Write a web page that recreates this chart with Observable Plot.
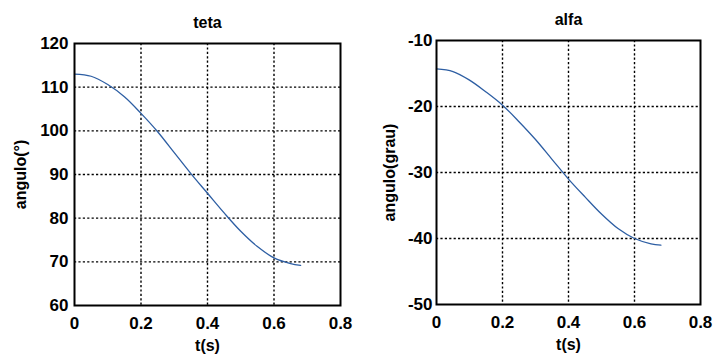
<!DOCTYPE html>
<html>
<head>
<meta charset="utf-8">
<script src="https://cdn.jsdelivr.net/npm/d3@7"></script>
<script src="https://cdn.jsdelivr.net/npm/@observablehq/plot@0.6"></script>
<style>
  html, body { margin: 0; padding: 0; background: #fff; }
  #wrap { position: relative; width: 715px; height: 356px; overflow: hidden; background: #fff; }
  #wrap > .panel { position: absolute; top: 0; }
</style>
</head>
<body>
<div id="wrap"></div>
<script>
// time samples (s)
const tVals = [0, 0.05, 0.10, 0.15, 0.20, 0.25, 0.30, 0.35, 0.40, 0.45, 0.50, 0.55, 0.60, 0.65, 0.68];
// teta angle (degrees)
const tetaVals = [113.0, 112.5, 110.6, 107.8, 104.0, 99.8, 95.0, 90.2, 85.7, 81.2, 77.0, 73.5, 70.9, 69.6, 69.2];
// alfa angle (degrees)
const alfaVals = [-14.3, -14.7, -16.0, -17.8, -19.8, -22.3, -25.0, -28.0, -31.0, -33.7, -36.3, -38.5, -40.0, -40.8, -41.0];

const xTicks = [0, 0.2, 0.4, 0.6, 0.8];
const tetaTicks = [60, 70, 80, 90, 100, 110, 120];
const alfaTicks = [-50, -40, -30, -20, -10];

const FONT = "'Liberation Sans', Arial, Helvetica, sans-serif";
const LINE = "#2d5ea3";
const GRID = {stroke: "#000", strokeOpacity: 1, strokeWidth: 1.4, strokeDasharray: "2.2,2.2"};

function panel({title, values, yTicks, ylabel, left, width, ml, mr, mt, mb, yPad, yLabelDx}) {
  const rows = tVals.map((t, i) => ({t, v: values[i]}));
  const yDomain = [yTicks[0], yTicks[yTicks.length - 1]];
  const chart = Plot.plot({
    width, height: 356,
    marginLeft: ml, marginRight: mr, marginTop: mt, marginBottom: mb,
    style: {fontFamily: FONT, background: "#fff", color: "#000", overflow: "visible"},
    x: {domain: [0, 0.8]},
    y: {domain: yDomain},
    marks: [
      Plot.gridX(xTicks.slice(1, -1), GRID),
      Plot.gridY(yTicks.slice(1, -1), GRID),
      Plot.line(rows, {x: "t", y: "v", stroke: LINE, strokeWidth: 1.3, curve: "catmull-rom"}),
      Plot.frame({stroke: "#000", strokeWidth: 2}),
      Plot.axisX(xTicks, {tickSize: 0, tickPadding: 11, fontSize: 17, fontWeight: "bold",
        tickFormat: d => String(d), label: null}),
      Plot.axisY(yTicks, {tickSize: 0, tickPadding: yPad, fontSize: 17, fontWeight: "bold",
        tickFormat: d => String(d), label: null}),
      // axis titles
      Plot.text(["t(s)"], {text: d => d, frameAnchor: "bottom", dy: 40, fontSize: 16, fontWeight: "bold",
        textAnchor: "middle", lineAnchor: "middle"}),
      Plot.text([ylabel], {text: d => d, frameAnchor: "left", dx: yLabelDx, rotate: -90, fontSize: 16,
        fontWeight: "bold", textAnchor: "middle", lineAnchor: "middle"}),
      // panel title
      Plot.text([title], {text: d => d, frameAnchor: "top", dy: -21, fontSize: 16, fontWeight: "bold",
        textAnchor: "middle", lineAnchor: "middle"})
    ]
  });
  chart.classList.add("panel");
  chart.style.left = left + "px";
  return chart;
}

const wrap = document.getElementById("wrap");
wrap.appendChild(panel({
  title: "teta", values: tetaVals, yTicks: tetaTicks, ylabel: "angulo(°)",
  left: 0, width: 357, ml: 74, mr: 17, mt: 43, mb: 51, yPad: 6, yLabelDx: -54
}));
wrap.appendChild(panel({
  title: "alfa", values: alfaVals, yTicks: alfaTicks, ylabel: "angulo(grau)",
  left: 357, width: 358, ml: 79, mr: 15, mt: 40, mb: 52, yPad: 4, yLabelDx: -47
}));
</script>
</body>
</html>
